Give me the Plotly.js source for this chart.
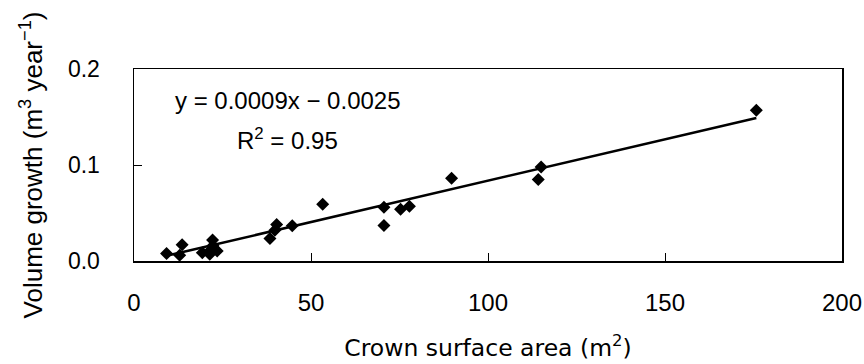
<!DOCTYPE html>
<html>
<head>
<meta charset="utf-8">
<script src="https://cdn.plot.ly/plotly-3.0.1.min.js"></script>
<style>html,body{margin:0;padding:0;background:#fff;}#chart{width:864px;height:364px;}</style>
</head>
<body>
<div id="chart"></div>
<script>
// Crown surface area (m2) and volume growth (m3/year)
const crownArea = [9.2, 12.9, 13.6, 19.3, 21.4, 21.8, 22.2, 22.3, 23.5, 38.4, 39.8, 40.3, 44.7, 53.3, 70.6, 70.6, 75.3, 77.8, 89.7, 114.2, 115.0, 175.8];
const volumeGrowth = [0.0077, 0.006, 0.0168, 0.0087, 0.007, 0.012, 0.022, 0.0158, 0.0105, 0.0235, 0.032, 0.038, 0.0368, 0.059, 0.056, 0.037, 0.054, 0.057, 0.0863, 0.085, 0.098, 0.157];
// Linear trend line end points
const trendX = [9.2, 175.8];
const trendY = [0.0054, 0.149];
const xTicks = [0, 50, 100, 150, 200];
const yTicks = [0.0, 0.1, 0.2];
const eqText = "y = 0.0009x − 0.0025";
const r2Text = "R<sup>2</sup> = 0.95";

const sans = "Liberation Sans, Arial, sans-serif";

const data = [
  {
    x: crownArea, y: volumeGrowth, type: "scatter", mode: "markers",
    marker: {symbol: "diamond", size: 10, color: "#000"},
    showlegend: false, hoverinfo: "x+y"
  },
  {
    x: trendX, y: trendY, type: "scatter", mode: "lines",
    line: {color: "#000", width: 2.5},
    showlegend: false, hoverinfo: "skip"
  }
];

const layout = {
  width: 864, height: 364,
  margin: {l: 134, r: 22, t: 69, b: 103, pad: 0},
  paper_bgcolor: "#fff", plot_bgcolor: "#fff",
  font: {family: sans, color: "#000"},
  showlegend: false,
  xaxis: {
    range: [0, 200], tickvals: xTicks, ticktext: xTicks.map(String),
    ticks: "inside", ticklen: 8, tickwidth: 1, tickcolor: "#000",
    showline: true, linecolor: "#000", linewidth: 1.5, mirror: true,
    showgrid: false, zeroline: false,
    tickfont: {family: sans, size: 24, color: "#000"},
    ticklabelstandoff: 20,
    title: {text: "Crown surface area (m<sup>2</sup>)", font: {family: "DejaVu Sans, sans-serif", size: 23.5, color: "#000"}, standoff: 24},
    automargin: false
  },
  yaxis: {
    range: [0, 0.2], tickvals: yTicks, ticktext: yTicks.map(v => v.toFixed(1)),
    ticks: "inside", ticklen: 8, tickwidth: 1, tickcolor: "#000",
    showline: true, linecolor: "#000", linewidth: 1.5, mirror: true,
    showgrid: false, zeroline: false,
    tickfont: {family: sans, size: 23, color: "#000"},
    ticklabelstandoff: 28,
    title: {text: "Volume growth (m<sup>3</sup> year<sup>−1</sup>)", font: {family: sans, size: 26, color: "#000"}, standoff: 18},
    automargin: false
  },
  annotations: [
    {x: 43.5, y: 0.1667, xref: "x", yref: "y", text: eqText, showarrow: false,
     xanchor: "center", yanchor: "middle", font: {family: sans, size: 24, color: "#000"}},
    {x: 43.5, y: 0.127, xref: "x", yref: "y", text: r2Text, showarrow: false,
     xanchor: "center", yanchor: "middle", font: {family: sans, size: 24, color: "#000"}}
  ]
};

Plotly.newPlot("chart", data, layout, {displayModeBar: false, staticPlot: true});
</script>
</body>
</html>
